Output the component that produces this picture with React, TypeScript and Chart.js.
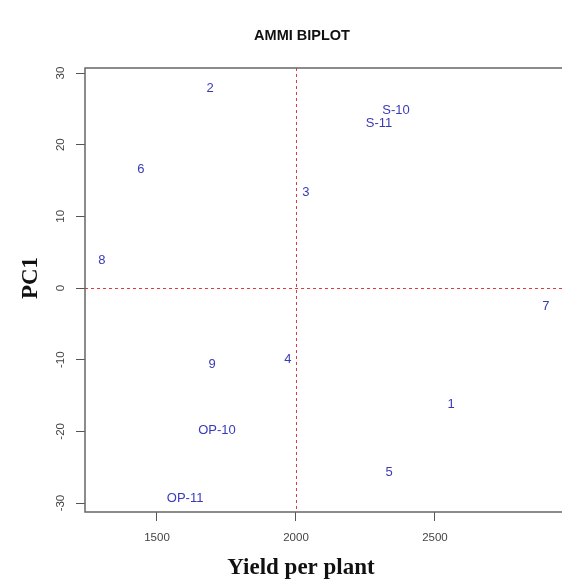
import React, { useEffect, useRef } from "react";
import { Chart, registerables } from "chart.js";

Chart.register(...registerables);

const genotypes = ["1", "2", "3", "4", "5", "6", "7", "8", "9", "OP-10", "OP-11", "S-10", "S-11"];
const yieldPerPlant = [2558, 1691, 2036, 1971, 2335, 1442, 2899, 1302, 1698, 1716, 1601, 2360, 2299];
const pc1Scores = [-16.2, 27.9, 13.4, -10.0, -25.7, 16.6, -2.5, 3.8, -10.6, -19.9, -29.3, 24.8, 22.9];
const xTicks = [1500, 2000, 2500];
const yTicks = [-30, -20, -10, 0, 10, 20, 30];
const refX = 2000;
const refY = 0;
const chartTitle = "AMMI BIPLOT";
const xTitle = "Yield per plant";
const yTitle = "PC1";

const W = 562;
const H = 581;

export default function App() {
  const ref = useRef<HTMLCanvasElement | null>(null);

  useEffect(() => {
    const canvas = ref.current;
    if (!canvas) return;

    const overlay = {
      id: "overlay",
      beforeDatasetsDraw(chart: any) {
        const { ctx, chartArea } = chart;
        const xs = chart.scales.x;
        const ys = chart.scales.y;
        ctx.save();
        ctx.strokeStyle = "#e23a3a";
        ctx.lineWidth = 1;
        ctx.setLineDash([3, 3]);
        const px = Math.round(xs.getPixelForValue(refX)) + 0.5;
        ctx.beginPath();
        ctx.moveTo(px, chartArea.top);
        ctx.lineTo(px, chartArea.bottom);
        ctx.stroke();
        const py = Math.round(ys.getPixelForValue(refY)) + 0.5;
        ctx.beginPath();
        ctx.moveTo(chartArea.left, py);
        ctx.lineTo(chartArea.right, py);
        ctx.stroke();
        ctx.restore();
      },
      afterDatasetsDraw(chart: any) {
        const { ctx, chartArea } = chart;
        const meta = chart.getDatasetMeta(0);
        ctx.save();
        ctx.fillStyle = "#3a3ab8";
        ctx.font = "13px 'Liberation Sans', Arial, sans-serif";
        ctx.textAlign = "center";
        ctx.textBaseline = "middle";
        meta.data.forEach((el: any, i: number) => {
          ctx.fillText(genotypes[i], el.x, el.y);
        });
        ctx.restore();

        // frame (right side lies beyond the picture)
        ctx.save();
        ctx.strokeStyle = "#666666";
        ctx.lineWidth = 1.5;
        ctx.beginPath();
        ctx.moveTo(chartArea.right + 2, chartArea.top);
        ctx.lineTo(chartArea.left, chartArea.top);
        ctx.lineTo(chartArea.left, chartArea.bottom);
        ctx.lineTo(chartArea.right + 2, chartArea.bottom);
        ctx.stroke();
        ctx.restore();

        // y tick labels rotated
        const ys = chart.scales.y;
        ctx.save();
        ctx.fillStyle = "#444444";
        ctx.font = "11.5px 'Liberation Sans', Arial, sans-serif";
        ctx.textAlign = "center";
        ctx.textBaseline = "middle";
        yTicks.forEach((v) => {
          const y = ys.getPixelForValue(v);
          ctx.save();
          ctx.translate(61, y);
          ctx.rotate(-Math.PI / 2);
          ctx.fillText(String(v), 0, 0);
          ctx.restore();
        });
        ctx.restore();

        // titles
        ctx.save();
        ctx.fillStyle = "#111111";
        ctx.textAlign = "center";
        ctx.textBaseline = "middle";
        ctx.font = "bold 14.5px 'Liberation Sans', Arial, sans-serif";
        ctx.fillText(chartTitle, 302, 36);
        ctx.font = "bold 23px 'Liberation Serif', 'Times New Roman', serif";
        ctx.fillText(xTitle, 301, 568);
        ctx.translate(31, 278);
        ctx.rotate(-Math.PI / 2);
        ctx.fillText(yTitle, 0, 0);
        ctx.restore();
      },
    };

    const chart = new Chart(canvas, {
      type: "scatter",
      data: {
        datasets: [
          {
            label: "genotypes",
            data: yieldPerPlant.map((x, i) => ({ x, y: pc1Scores[i] })),
            pointRadius: 0,
            pointHoverRadius: 0,
            backgroundColor: "transparent",
            borderColor: "transparent",
          },
        ],
      },
      options: {
        responsive: false,
        animation: false,
        events: [],
        layout: { padding: { left: 0, right: 0, top: 68, bottom: 0 } },
        plugins: {
          legend: { display: false },
          tooltip: { enabled: false },
          title: { display: false },
        },
        scales: {
          x: {
            type: "linear",
            min: 1241,
            max: 2957,
            afterBuildTicks: (scale: any) => {
              scale.ticks = xTicks.map((v) => ({ value: v }));
            },
            afterFit: (scale: any) => {
              scale.height = 69;
            },
            border: { display: false },
            grid: { drawOnChartArea: false, drawTicks: true, tickLength: 9, color: "#555555", lineWidth: 1 },
            ticks: {
              color: "#444444",
              font: { family: "'Liberation Sans', Arial, sans-serif", size: 11.5 },
              padding: 10,
              maxRotation: 0,
              callback: (v: any) => String(v),
            },
            title: { display: false },
          },
          y: {
            type: "linear",
            min: -31.25,
            max: 30.7,
            afterBuildTicks: (scale: any) => {
              scale.ticks = yTicks.map((v) => ({ value: v }));
            },
            afterFit: (scale: any) => {
              scale.width = 85;
            },
            border: { display: false },
            grid: { drawOnChartArea: false, drawTicks: true, tickLength: 9, color: "#555555", lineWidth: 1 },
            ticks: { display: false },
            title: { display: false },
          },
        },
      },
      plugins: [overlay],
    } as any);

    return () => chart.destroy();
  }, []);

  return (
    <div style={{ position: "fixed", left: 0, top: 0, width: W, height: H, background: "#ffffff" }}>
      <canvas ref={ref} width={W} height={H} style={{ width: W, height: H, display: "block" }} />
    </div>
  );
}
